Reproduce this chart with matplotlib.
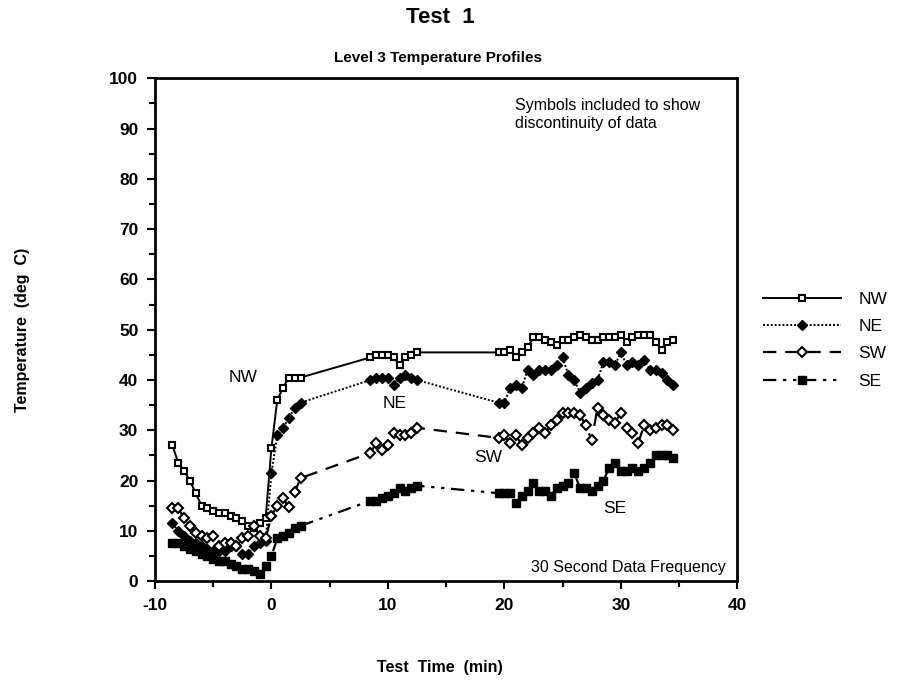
import matplotlib
matplotlib.use('Agg')
from matplotlib import pyplot as plt
from matplotlib.ticker import MultipleLocator

plt.rcParams['font.family'] = ['Liberation Sans', 'DejaVu Sans']
plt.rcParams['axes.unicode_minus'] = False

# sample times (min), three recording windows joined by lines
times = [-8.5, -8, -7.5, -7, -6.5, -6, -5.5, -5, -4.5, -4, -3.5, -3, -2.5, -2, -1.5, -1, -0.5, 0, 0.5, 1, 1.5, 2, 2.5,
         8.5, 9, 9.5, 10, 10.5, 11, 11.5, 12, 12.5,
         19.5, 20, 20.5, 21, 21.5, 22, 22.5, 23, 23.5, 24, 24.5, 25, 25.5, 26, 26.5, 27, 27.5, 28, 28.5, 29, 29.5,
         30, 30.5, 31, 31.5, 32, 32.5, 33, 33.5, 34, 34.5]

nw = [27, 23.5, 22, 20, 17.5, 15, 14.5, 14, 13.5, 13.5, 13, 12.5, 12, 11, 10.5, 11.5, 12.5, 26.5, 36, 38.5, 40.5, 40.5, 40.5,
      44.5, 45, 45, 45, 44.5, 43, 44.5, 45, 45.5,
      45.5, 45.5, 46, 44.5, 45.5, 46.5, 48.5, 48.5, 48, 47.5, 47, 48, 48, 48.5, 49, 48.5, 48, 48, 48.5, 48.5, 48.5,
      49, 47.5, 48.5, 49, 49, 49, 47.5, 46, 47.5, 48]

ne = [11.5, 10, 9, 8, 7.5, 7, 6.5, 6, 6, 6, 7, 7, 5.5, 5.5, 7, 7.5, 8, 21.5, 29, 30.5, 32.5, 34.5, 35.5,
      40, 40.5, 40.5, 40.5, 39, 40.5, 41, 40.5, 40,
      35.5, 35.5, 38.5, 39, 38.5, 42, 41, 42, 42, 42, 43, 44.5, 41, 40, 37.5, 38.5, 39.5, 40, 43.5, 43.5, 43,
      45.5, 43, 43.5, 43, 44, 42, 42, 41.5, 40, 39]

sw = [14.5, 14.5, 12.5, 11, 9.5, 9, 8.5, 9, 7, 7.5, 7.5, 7, 8.5, 9, 11, 9, 8.5, 13, 15, 16.5, 14.7, 17.7, 20.5,
      25.5, 27.5, 26, 27, 29.5, 29, 29, 29.5, 30.5,
      28.5, 29, 27.5, 29, 27, 28.5, 29.5, 30.5, 29.5, 31, 32, 33.5, 33.5, 33.5, 33, 31, 28, 34.5, 33, 32, 31.5,
      33.5, 30.5, 29.5, 27.5, 31, 30, 30.5, 31, 31, 30]

se = [7.5, 7.5, 7, 6.5, 6, 5.5, 5, 4.5, 4, 4, 3.5, 3, 2.5, 2.5, 2, 1.5, 3, 5, 8.5, 9, 9.5, 10.5, 11,
      16, 16, 16.5, 17, 17.5, 18.5, 18, 18.5, 19,
      17.5, 17.5, 17.5, 15.5, 17, 18, 19.5, 18, 18, 17, 18.5, 19, 19.5, 21.5, 18.5, 18.5, 18, 19, 20, 22.5, 23.5,
      22, 22, 22.5, 22, 22.5, 23.5, 25, 25, 25, 24.5]

fig = plt.figure(figsize=(9.17, 6.87), dpi=100)
ax = fig.add_axes([0.169, 0.154, 0.635, 0.732])

l1, = ax.plot(times, nw, '-', color='black', lw=1.4, marker='s', ms=5, mfc='white', mec='black', mew=1.5, label='NW')
l2, = ax.plot(times, ne, color='black', lw=1.4, ls=(0, (1, 1)), marker='D', ms=5, mfc='black', mec='black', label='NE')
l3, = ax.plot(times, sw, color='black', lw=1.6, ls=(0, (6, 4)), marker='D', ms=5, mfc='white', mec='black', mew=1.5, label='SW')
l4, = ax.plot(times, se, color='black', lw=1.6, ls=(0, (6, 3, 1.5, 3, 1.5, 3)), marker='s', ms=5.5, mfc='black', mec='black', label='SE')

ax.set_xlim(-10, 40)
ax.set_ylim(0, 100)
ax.xaxis.set_major_locator(MultipleLocator(10))
ax.xaxis.set_minor_locator(MultipleLocator(5))
ax.yaxis.set_major_locator(MultipleLocator(10))
ax.yaxis.set_minor_locator(MultipleLocator(5))
ax.tick_params(which='major', direction='out', length=6, width=1.5, labelsize=12.5, pad=6)
ax.tick_params(which='minor', direction='out', length=4, width=1.5)
for s in ax.spines.values():
    s.set_linewidth(2)
for lbl in ax.get_xticklabels() + ax.get_yticklabels():
    lbl.set_fontweight('bold')

ax.text(-2.4, 40.5, 'NW', fontsize=12.5, ha='center', va='center')
ax.text(10.6, 35.4, 'NE', fontsize=12.5, ha='center', va='center')
ax.text(18.6, 24.5, 'SW', fontsize=12.5, ha='center', va='center')
ax.text(29.5, 14.5, 'SE', fontsize=12.5, ha='center', va='center')
ax.text(20.9, 92.8, 'Symbols included to show\ndiscontinuity of data', fontsize=11.5, ha='left', va='center',
        linespacing=1.3)
ax.text(39, 2.7, '30 Second Data Frequency', fontsize=11.5, ha='right', va='center')

fig.text(0.48, 0.975, 'Test  1', fontsize=16, fontweight='bold', ha='center', va='center')
fig.text(0.478, 0.915, 'Level 3 Temperature Profiles', fontsize=11, fontweight='bold', ha='center', va='center')
fig.text(0.024, 0.52, 'Temperature  (deg  C)', fontsize=11.5, fontweight='bold', rotation=90, ha='center', va='center')
fig.text(0.48, 0.028, 'Test  Time  (min)', fontsize=11.5, fontweight='bold', ha='center', va='center')

fig.legend(handles=[l1, l2, l3, l4], loc='center left', bbox_to_anchor=(0.815, 0.505), frameon=False,
           fontsize=12.5, handlelength=4.5, labelspacing=0.7, handletextpad=1.0)

plt.savefig('out.png', dpi=100)
